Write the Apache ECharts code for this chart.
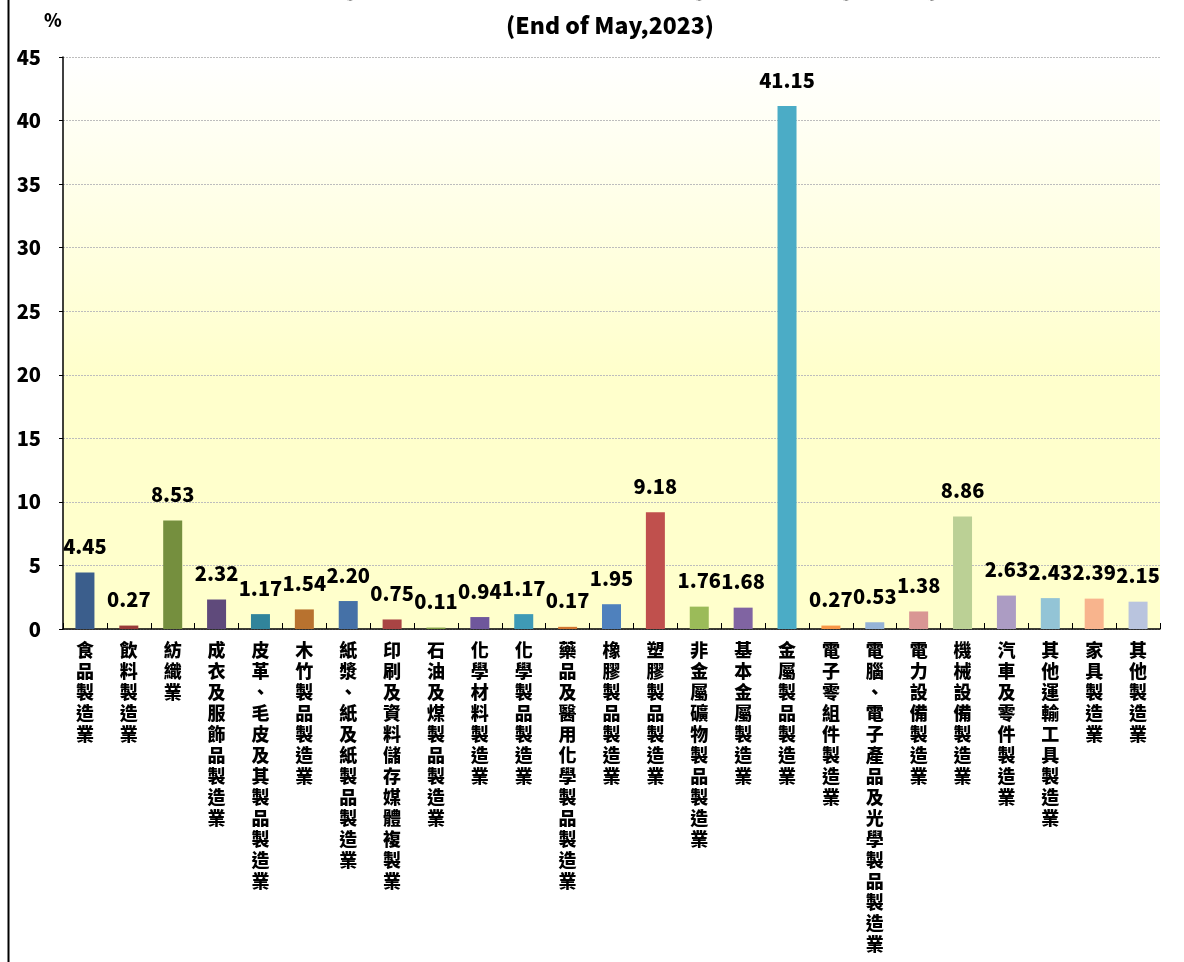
<!DOCTYPE html>
<html>
<head>
<meta charset="utf-8">
<script src="https://cdn.jsdelivr.net/npm/echarts@6/dist/echarts.min.js"></script>
<style>
html,body{margin:0;padding:0;background:#fff;}
#chart{width:1184px;height:962px;}
</style>
</head>
<body>
<div id="chart"></div>
<script>
const categories = ['食品製造業','飲料製造業','紡織業','成衣及服飾品製造業','皮革、毛皮及其製品製造業','木竹製品製造業','紙漿、紙及紙製品製造業','印刷及資料儲存媒體複製業','石油及煤製品製造業','化學材料製造業','化學製品製造業','藥品及醫用化學製品製造業','橡膠製品製造業','塑膠製品製造業','非金屬礦物製品製造業','基本金屬製造業','金屬製品製造業','電子零組件製造業','電腦、電子產品及光學製品製造業','電力設備製造業','機械設備製造業','汽車及零件製造業','其他運輸工具製造業','家具製造業','其他製造業'];
const values = [4.45,0.27,8.53,2.32,1.17,1.54,2.20,0.75,0.11,0.94,1.17,0.17,1.95,9.18,1.76,1.68,41.15,0.27,0.53,1.38,8.86,2.63,2.43,2.39,2.15];
const barColors = ['#3B5E8C','#983A38','#758F3E','#5F4A7B','#31849B','#B8722F','#4571A7','#A94444','#7A9A3F','#6F579C','#3F9AB6','#D0752F','#4F81BD','#C0504D','#9BBB59','#8064A2','#4BACC6','#F79646','#95B3D7','#D99694','#BBD095','#AC9CC3','#93C4D6','#F8B48D','#B9C4DE'];
const yTicks = [0,5,10,15,20,25,30,35,40,45];
const titleLines = ['Percentage of Factories by Manufacturing Industry Registering','(End of May,2023)'];

const font = '"Noto Sans CJK TC","Noto Sans",sans-serif';
const chart = echarts.init(document.getElementById('chart'));
chart.setOption({
  animation:false,
  backgroundColor:'#ffffff',
  title:[
    {text:titleLines[0],left:'center',top:-29,textStyle:{fontFamily:font,fontSize:22,fontWeight:900,color:'#000'}},
    {text:titleLines[1],left:605,textAlign:'center',top:9,textStyle:{fontFamily:font,fontSize:23,fontWeight:900,color:'#000'}},
    {text:'%',left:39,top:6,textStyle:{fontFamily:font,fontSize:18,fontWeight:900,color:'#000'}}
  ],
  graphic:[
    {type:'line',shape:{x1:8.5,y1:0,x2:8.5,y2:962},style:{stroke:'#000',lineWidth:2},silent:true}
  ],
  grid:{left:63,right:24,top:57,bottom:333,show:true,borderWidth:0,
    backgroundColor:new echarts.graphic.LinearGradient(0,0,0,1,[
      {offset:0,color:'#FFFFFF'},{offset:0.55,color:'#FFFFCC'},{offset:1,color:'#FFFFCC'}])},
  xAxis:{
    type:'category',data:categories,boundaryGap:true,
    axisLine:{lineStyle:{color:'#000',width:1.5}},
    axisTick:{show:true,inside:true,length:6,alignWithLabel:false,lineStyle:{color:'#000'}},
    axisLabel:{interval:0,margin:11,verticalAlign:'top',color:'#000',fontFamily:font,fontSize:18,fontWeight:900,lineHeight:21,
      formatter:v=>v.split('').join('\n')}
  },
  yAxis:{
    type:'value',min:yTicks[0],max:yTicks[yTicks.length-1],interval:5,
    axisLine:{show:true,lineStyle:{color:'#000',width:1.5}},
    axisTick:{show:true,length:4,lineStyle:{color:'#000'}},
    splitLine:{show:true,lineStyle:{color:'#BDBDBD',type:[2,1],width:1}},
    axisLabel:{margin:22,color:'#000',fontFamily:font,fontSize:20,fontWeight:900}
  },
  series:[{
    type:'bar',barWidth:19,
    data:values.map((v,i)=>({value:v,itemStyle:{color:barColors[i]}})),
    label:{show:true,position:'top',distance:16,color:'#000',fontFamily:font,fontSize:20,fontWeight:900,
      formatter:p=>p.value.toFixed(2)},
    labelLayout:{moveOverlap:'shiftY'}
  }]
});
</script>
</body>
</html>
